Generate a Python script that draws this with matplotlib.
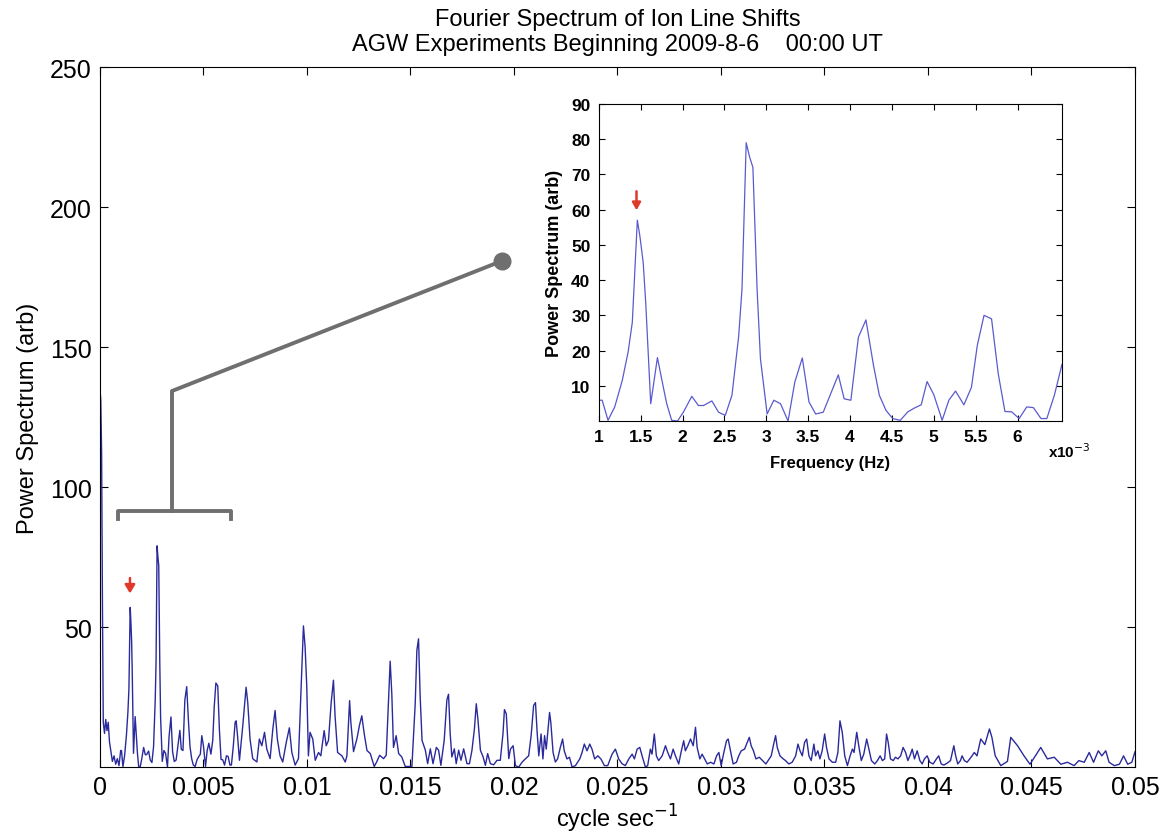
import matplotlib.pyplot as plt

# main spectrum (frequency in mHz)
head_freq = [0.0, 0.04, 0.08, 0.12, 0.16, 0.22, 0.28, 0.34, 0.40, 0.46, 0.52, 0.60, 0.68, 0.76, 0.84, 0.92]
head_power = [135, 131, 112, 58, 16, 12, 17, 13, 16, 9, 6, 2, 4, 1, 3, 0.5]

# zoomed part (same as the inset)
inset_freq = [1.00, 1.04, 1.11, 1.19, 1.28, 1.35, 1.40, 1.46, 1.49, 1.53, 1.56, 1.62, 1.70, 1.75,
              1.81, 1.87, 1.94, 2.01, 2.11, 2.19, 2.25, 2.35, 2.43, 2.51, 2.59, 2.67, 2.71, 2.76,
              2.80, 2.84, 2.89, 2.93, 3.01, 3.09, 3.17, 3.26, 3.34, 3.43, 3.51, 3.59, 3.68, 3.77,
              3.86, 3.93, 4.01, 4.10, 4.19, 4.28, 4.35, 4.43, 4.51, 4.60, 4.69, 4.77, 4.85, 4.92,
              5.00, 5.10, 5.18, 5.26, 5.36, 5.45, 5.52, 5.60, 5.69, 5.77, 5.85, 5.93, 6.02, 6.11,
              6.19, 6.28, 6.35, 6.44, 6.53]
inset_power = [5.9, 5.9, 0.2, 4, 11.5, 19.6, 28, 57, 52.6, 45, 33.7, 4.9, 18, 12,
               5, 0.2, 0, 2.5, 7, 4.4, 4.4, 5.7, 2.5, 1.6, 7.3, 24, 37.5, 79,
               75, 72, 37.5, 17.7, 2, 5.9, 4.9, 0, 11, 17.9, 5.4, 2, 2.5, 7.8,
               13.1, 6.3, 5.9, 23.8, 28.7, 15.8, 7.3, 3, 0.7, 0.2, 2.6, 3.7, 4.6, 11.2,
               7.5, 0.2, 5.9, 8.5, 4.6, 9.6, 21.5, 30, 29, 13.4, 2.7, 2.6, 0.7, 4,
               3.8, 0.7, 0.7, 7.3, 16]

tail_freq = [6.58, 6.64, 6.74, 6.90, 7.06, 7.14, 7.25, 7.38, 7.58, 7.70, 7.82, 7.95, 8.06, 8.22,
             8.35, 8.46, 8.57, 8.70, 8.83, 9.00, 9.15, 9.27, 9.43, 9.59, 9.72, 9.83, 9.91, 9.99,
             10.07, 10.15, 10.28, 10.40, 10.56, 10.67, 10.83, 10.93, 11.04, 11.17, 11.28, 11.36,
             11.48, 11.69, 11.85, 11.93, 12.06, 12.12, 12.25, 12.41, 12.54, 12.65, 12.77, 12.90,
             13.06, 13.25, 13.38, 13.51, 13.70, 13.83, 13.94, 14.02, 14.10, 14.18, 14.31, 14.43,
             14.58, 14.75, 15.07, 15.23, 15.31, 15.39, 15.47, 15.56, 15.72, 15.83, 15.96, 16.09,
             16.25, 16.36, 16.47, 16.63, 16.76, 16.84, 16.92, 17.00, 17.12, 17.21, 17.33, 17.44,
             17.57, 17.73, 17.85, 17.97, 18.09, 18.18, 18.26, 18.38, 18.51, 18.62, 18.73, 18.86,
             19.02, 19.18, 19.34, 19.47, 19.54, 19.63, 19.75, 19.83, 19.96, 20.07, 20.23, 20.40,
             20.55, 20.71, 20.83, 20.95, 21.04, 21.12, 21.20, 21.31, 21.40, 21.48, 21.56, 21.72,
             21.78, 21.89, 22.00, 22.11, 22.24, 22.35, 22.43, 22.56, 22.68, 22.81, 22.97, 23.18,
             23.29, 23.40, 23.53, 23.66, 23.77, 23.90, 24.05, 24.20, 24.37, 24.53, 24.74, 24.90,
             25.06, 25.22, 25.38, 25.55, 25.71, 25.82, 25.95, 26.08, 26.19, 26.35, 26.46, 26.59,
             26.67, 26.78, 26.88, 26.99, 27.16, 27.32, 27.43, 27.56, 27.69, 27.80, 27.96, 28.07,
             28.20, 28.28, 28.40, 28.53, 28.66, 28.77, 28.85, 28.98, 29.09, 29.21, 29.34, 29.50,
             29.66, 29.79, 29.90, 30.01, 30.14, 30.27, 30.35, 30.46, 30.59, 30.75, 30.86, 30.98,
             31.14, 31.37, 31.46, 31.57, 31.69, 31.85, 32.01, 32.17, 32.33, 32.43, 32.53, 32.64,
             32.72, 32.85, 33.01, 33.12, 33.28, 33.44, 33.61, 33.72, 33.82, 33.93, 34.04, 34.14,
             34.25, 34.36, 34.49, 34.57, 34.68, 34.78, 34.89, 35.01, 35.10, 35.22, 35.38, 35.54,
             35.65, 35.75, 35.86, 35.98, 36.11, 36.24, 36.35, 36.43, 36.56, 36.67, 36.78, 36.90,
             37.04, 37.15, 37.27, 37.43, 37.56, 37.69, 37.80, 37.91, 38.00, 38.08, 38.19, 38.32,
             38.43, 38.55, 38.68, 38.80, 38.92, 39.03, 39.16, 39.24, 39.35, 39.48, 39.61, 39.72,
             39.83, 39.96, 40.09, 40.25, 40.41, 40.52, 40.64, 40.77, 40.93, 41.09, 41.25, 41.34,
             41.44, 41.57, 41.65, 41.76, 41.89, 42.02, 42.13, 42.24, 42.37, 42.55, 42.75, 42.97,
             43.09, 43.25, 43.52, 43.84, 44.00, 44.33, 44.64, 44.93, 45.45, 45.77, 46.10, 46.42,
             46.74, 47.06, 47.29, 47.55, 47.79, 48.00, 48.23, 48.40, 48.59, 48.75, 49.00, 49.25,
             49.45, 49.65, 49.85, 50.00]
tail_power = [16.5, 11.7, 2.4, 14.8, 28.5, 23, 10, 3, 1.8, 10, 7.6, 12.4, 6.4, 3,
              13.5, 20.2, 10, 4, 1.8, 8.8, 14, 5.2, 0.7, 3, 29, 50.4, 43, 29,
              4, 12.4, 10, 2.4, 5.2, 4, 13, 7.6, 9.5, 23, 31, 18,
              5.2, 4, 1.8, 4, 23.7, 16, 5.5, 10, 15, 18.3, 11.7, 5.9,
              4.8, 0.2, 2, 4.2, 3, 4.2, 24, 37.8, 26, 7, 11.2, 4.8,
              3.6, 0.2, 0.2, 22.6, 41.7, 45.8, 25, 9.5, 6, 1.2, 6.5, 1.2,
              7, 6, 0.6, 9.5, 24, 26, 11.9, 3.6, 6.5, 1.2, 6, 2.4,
              6.5, 1.2, 1.2, 5.9, 13.6, 22.6, 17, 6, 3.6, 0.6, 4.8, 1.2,
              0.8, 2.4, 2.4, 11.9, 20.5, 19, 3, 6.4, 7.6, 0.5, 0, 1.8,
              2.9, 4, 11.2, 22, 23, 12.4, 4, 11.8, 2.9, 11.2, 6.4, 19.5,
              16, 5.2, 1.8, 2.9, 7, 10, 5.8, 2.9, 3.5, 0, 0.5, 2.9,
              5.2, 8.2, 5.8, 8.2, 6.4, 2.9, 4, 2.9, 0.5, 0.5, 4.6, 6.4,
              2.9, 1.2, 0.5, 2.9, 4.6, 2.9, 6.4, 7, 4, 0, 0.5, 6.4,
              4.6, 11.8, 4, 2.3, 4, 7.6, 5.2, 2.9, 6.4, 4, 1.1, 5.2,
              9.4, 5.8, 7.6, 10, 7.6, 14.2, 7, 2.9, 4.6, 2.9, 1.1, 1.7,
              1.1, 4, 5.2, 0.5, 5.2, 9.4, 10, 5.8, 1.1, 1.7, 4, 5.8,
              6.4, 10.6, 7.6, 5.8, 2.9, 3.5, 2.3, 1.1, 2.9, 4, 7.6, 11.2,
              7, 4, 2.9, 2.3, 1.1, 1.7, 4, 8.2, 5.8, 4, 8.8, 10,
              4, 2.3, 8.2, 4, 5.8, 2.9, 5.8, 11.8, 7, 2.9, 1.7, 1.7,
              5.2, 16.5, 12.4, 4, 0.5, 4, 6.4, 5.2, 12.4, 7, 2.3, 4.6,
              10, 6.4, 2.3, 1.1, 2.3, 4, 2.3, 2.9, 11.8, 8.8, 2.9, 2.3,
              3.5, 2.9, 4, 7, 5.2, 2.3, 4.6, 6.4, 2.9, 5.8, 2.3, 1.1,
              2.9, 4, 1.7, 1.1, 2.9, 4, 1.1, 0.7, 1.4, 2.3, 7.6, 4,
              1.1, 2.3, 4, 2.3, 1.7, 2.9, 4, 5.2, 4, 10, 8, 13.6,
              10.6, 4, 0.5, 2, 10.6, 7.6, 4, 1, 7, 2.9, 3.5, 1,
              1.7, 0.5, 2.3, 1.7, 5.2, 1.7, 5.8, 4, 5.8, 1.7, 0.5, 1,
              4, 1, 1.7, 5.4]

main_freq = [f * 1e-3 for f in head_freq + inset_freq + tail_freq]
main_power = head_power + inset_power + tail_power

main_xticks = [0, 0.005, 0.01, 0.015, 0.02, 0.025, 0.03, 0.035, 0.04, 0.045, 0.05]
main_xlabels = ['0', '0.005', '0.01', '0.015', '0.02', '0.025', '0.03', '0.035', '0.04', '0.045', '0.05']
main_yticks = [50, 100, 150, 200, 250]
inset_xticks = [1, 1.5, 2, 2.5, 3, 3.5, 4, 4.5, 5, 5.5, 6]
inset_xlabels = ['1', '1.5', '2', '2.5', '3', '3.5', '4', '4.5', '5', '5.5', '6']
inset_yticks = [10, 20, 30, 40, 50, 60, 70, 80, 90]

plt.rcParams['font.family'] = ['Liberation Sans', 'DejaVu Sans']

fig = plt.figure(figsize=(11.65, 8.37), dpi=100)
ax = fig.add_axes([0.0858, 0.0824, 0.8884, 0.8363])
ax.plot(main_freq, main_power, color='#2a2a9c', lw=1.0)
ax.set_xlim(0, 0.05)
ax.set_ylim(0, 250)
ax.set_xticks(main_xticks)
ax.set_xticklabels(main_xlabels)
ax.set_yticks(main_yticks)
ax.tick_params(direction='in', length=6, labelsize=18, top=True, right=True, pad=6)
ax.set_xlabel('cycle sec$^{-1}$', fontsize=17, labelpad=2)
ax.set_ylabel('Power Spectrum (arb)', fontsize=17, labelpad=8)
ax.set_title('Fourier Spectrum of Ion Line Shifts\nAGW Experiments Beginning 2009-8-6    00:00 UT',
             fontsize=17, pad=12, linespacing=1.2)

# grey bracket pointing to the inset
grey = '#6f6f6f'
ax.plot([0.00087, 0.00087, 0.00633, 0.00633], [88.5, 91.5, 91.5, 88.5], color=grey, lw=2.8)
ax.plot([0.00348, 0.00348, 0.0194], [91.5, 134.3, 180.7], color=grey, lw=2.8)
ax.plot([0.0194], [180.7], 'o', color=grey, ms=12)

red = '#e0392a'
ax.annotate('', xy=(0.00145, 61), xytext=(0.00145, 68.5),
            arrowprops=dict(arrowstyle='-|>,head_width=0.3,head_length=0.5', color=red, lw=1.8))

# inset
bold = dict(family=['Liberation Sans Narrow', 'Liberation Sans'], fontweight='bold')
axi = fig.add_axes([0.514, 0.4958, 0.3975, 0.3788])
axi.plot(inset_freq, inset_power, color='#5a5ad0', lw=0.9)
axi.set_xlim(1, 6.53)
axi.set_ylim(0, 90)
axi.set_xticks(inset_xticks)
axi.set_xticklabels(inset_xlabels, **bold)
axi.set_yticks(inset_yticks)
axi.set_yticklabels([str(v) for v in inset_yticks], **bold)
axi.tick_params(direction='in', length=4, labelsize=12.5, top=True, right=True, pad=6)
axi.set_xlabel('Frequency (Hz)', fontsize=12, labelpad=8, **bold)
axi.set_ylabel('Power Spectrum (arb)', fontsize=13, labelpad=6, **bold)
axi.text(0.97, -0.095, 'x10$^{-3}$', transform=axi.transAxes, fontsize=11, ha='left', va='center', **bold)
axi.annotate('', xy=(1.45, 59), xytext=(1.45, 66),
             arrowprops=dict(arrowstyle='-|>,head_width=0.25,head_length=0.45', color=red, lw=1.8))

fig.savefig('out.png', dpi=100)
